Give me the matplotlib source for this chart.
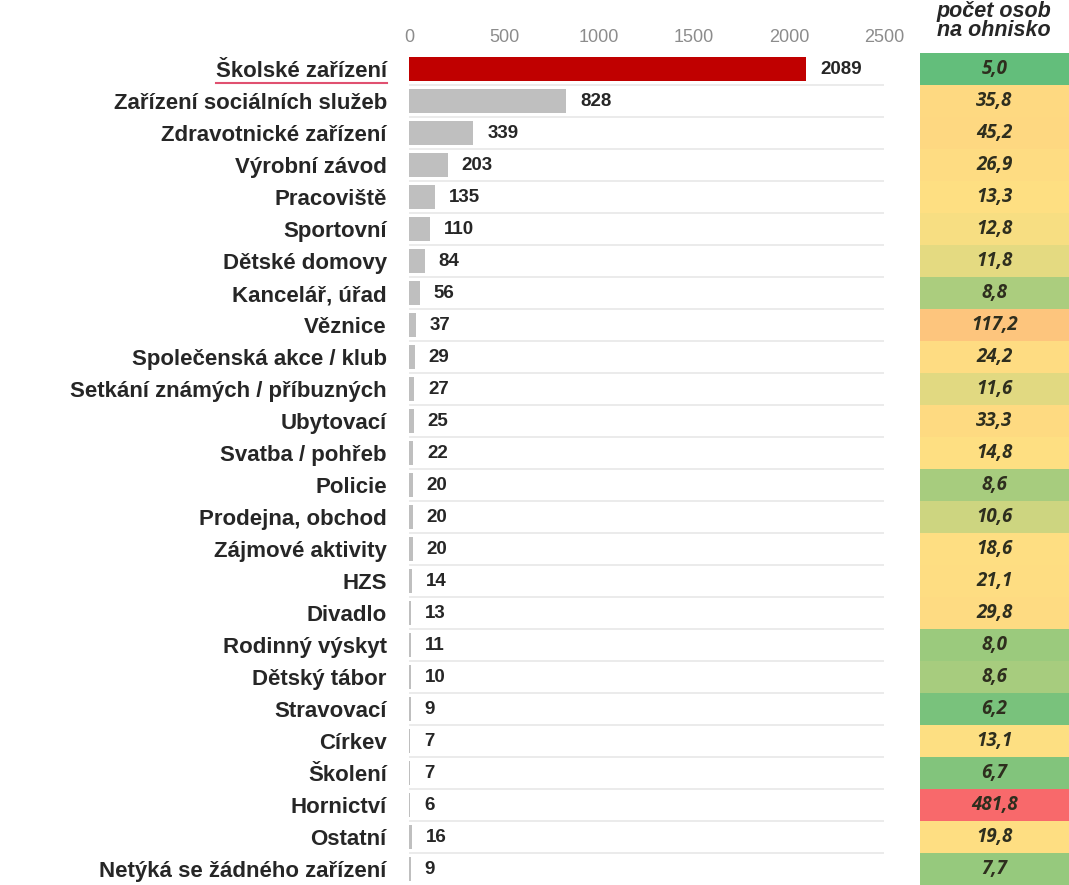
import numpy as np
import matplotlib
matplotlib.use("Agg")
import matplotlib.pyplot as plt
from matplotlib.colors import LinearSegmentedColormap, TwoSlopeNorm

categories = ["Školské zařízení", "Zařízení sociálních služeb", "Zdravotnické zařízení",
              "Výrobní závod", "Pracoviště", "Sportovní", "Dětské domovy", "Kancelář, úřad",
              "Věznice", "Společenská akce / klub", "Setkání známých / příbuzných",
              "Ubytovací", "Svatba / pohřeb", "Policie", "Prodejna, obchod",
              "Zájmové aktivity", "HZS", "Divadlo", "Rodinný výskyt", "Dětský tábor",
              "Stravovací", "Církev", "Školení", "Hornictví", "Ostatní",
              "Netýká se žádného zařízení"]
counts = [2089, 828, 339, 203, 135, 110, 84, 56, 37, 29, 27, 25, 22, 20, 20, 20,
          14, 13, 11, 10, 9, 7, 7, 6, 16, 9]
per_focus = [5.0, 35.8, 45.2, 26.9, 13.3, 12.8, 11.8, 8.8, 117.2, 24.2, 11.6, 33.3,
             14.8, 8.6, 10.6, 18.6, 21.1, 29.8, 8.0, 8.6, 6.2, 13.1, 6.7, 481.8, 19.8, 7.7]
xticks = [0, 500, 1000, 1500, 2000, 2500]
header_top = "počet osob"
header_bottom = "na ohnisko"

label_font = ["Liberation Sans", "DejaVu Sans"]
narrow_font = ["Liberation Sans Narrow", "Liberation Sans", "DejaVu Sans"]

fig = plt.figure(figsize=(10.69, 8.85), dpi=100)
ax = fig.add_axes([0.3826, 0.0, 0.4445, 0.94])

n = len(categories)
y = np.arange(n)
colors = ["#C00000"] + ["#BFBFBF"] * (n - 1)

for k in range(n - 1):
    ax.axhline(k + 0.5, color="#E8E8E8", lw=1.2, zorder=0)
ax.barh(y, counts, height=0.74, color=colors, zorder=2)
for yi, v in zip(y, counts):
    ax.annotate(str(v), (v, yi), xytext=(10, 0), textcoords="offset points",
                va="center", ha="left", fontsize=13.5, fontweight="bold",
                color="#262626", family=label_font)

ax.set_xlim(0, 2500)
ax.set_ylim(n - 0.5, -0.5)
ax.xaxis.tick_top()
ax.set_xticks(xticks)
ax.set_xticklabels([str(t) for t in xticks], family=narrow_font, fontsize=13,
                   color="#8C8C8C")
ax.tick_params(axis="x", length=0, pad=5)
ax.set_yticks(y)
ax.set_yticklabels(categories, fontsize=16, fontweight="bold", color="#262626",
                   family=label_font)
ax.tick_params(axis="y", length=0, pad=16)
for s in ax.spines.values():
    s.set_visible(False)

# red underline under the first label
fig.canvas.draw()
lab = ax.get_yticklabels()[0]
bb = lab.get_window_extent()
inv = fig.transFigure.inverted()
(x0, y0), (x1, _) = inv.transform([(bb.x0, bb.y0), (bb.x1, bb.y0)])
fig.add_artist(plt.Line2D([x0, x1], [y0 - 0.001, y0 - 0.001], color="#E05070", lw=1.5))

# heat-map column
ax2 = fig.add_axes([0.8606, 0.0, 0.139, 0.94])
cmap = LinearSegmentedColormap.from_list("rg", ["#63BE7B", "#FFE083", "#F8696B"])
vals = np.array(per_focus)
norm = TwoSlopeNorm(vmin=vals.min(), vcenter=np.median(vals), vmax=vals.max())
ax2.imshow(vals.reshape(-1, 1), cmap=cmap, norm=norm, aspect="auto",
           extent=(0, 1, n - 0.5, -0.5), interpolation="nearest")
for yi, v in zip(y, per_focus):
    ax2.text(0.5, yi, f"{v:.1f}".replace(".", ","), ha="center", va="center",
             fontsize=13.5, fontweight="bold", style="italic", color="#2E2E1E",
             family=["Open Sans", "DejaVu Sans"])
ax2.set_xlim(0, 1)
ax2.set_ylim(n - 0.5, -0.5)
ax2.axis("off")
fig.text(0.9295, 1 - 31 / 885, header_bottom, ha="center", va="center", fontsize=15.5,
         fontweight="bold", style="italic", color="#262626", family=label_font)
fig.text(0.9295, 1 - 11 / 885, header_top, ha="center", va="center", fontsize=15.5,
         fontweight="bold", style="italic", color="#262626", family=label_font)

fig.savefig("out.png", dpi=100)
